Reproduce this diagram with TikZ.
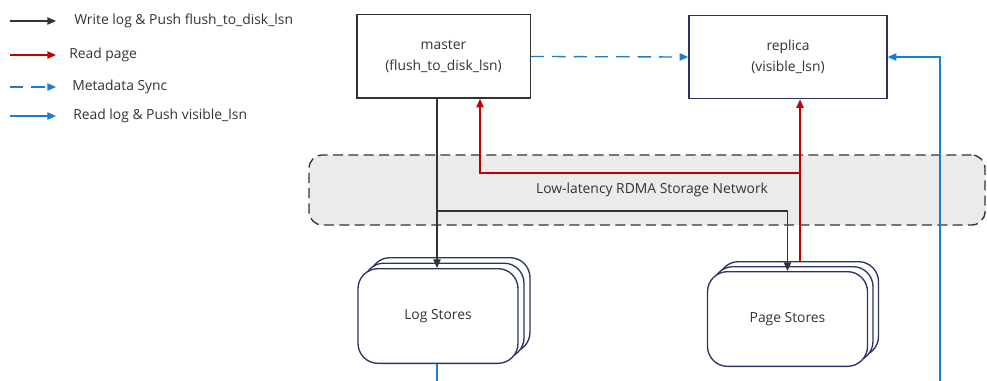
\documentclass[tikz,border=0pt]{standalone}
\usepackage{fontspec}
\setmainfont{Open Sans}
\usetikzlibrary{arrows.meta,positioning}

\definecolor{linegray}{HTML}{333333}
\definecolor{readred}{HTML}{C00000}
\definecolor{syncblue}{HTML}{1A7DD2}
\definecolor{boxnavy}{HTML}{2B3462}
\definecolor{netgray}{HTML}{EBEBEB}

\begin{document}
\begin{tikzpicture}[x=0.75pt, y=-0.75pt, font=\fontsize{10.4}{15.5}\selectfont, >={Triangle[length=6.5pt,width=5.5pt]}]
  \tikzstyle{server} = [draw=linegray, line width=1pt, fill=white, rectangle, minimum height=62.5pt, align=center, text=linegray]
  \tikzstyle{store} = [draw=boxnavy, line width=1pt, fill=white, rectangle, rounded corners=15pt, minimum width=120pt, minimum height=71pt, text=linegray]
  \tikzstyle{network} = [draw=linegray, line width=1pt, dash pattern=on 7.5pt off 4pt, fill=netgray, rounded corners=10pt, minimum width=507pt, minimum height=52.5pt, text=linegray]
  \tikzstyle{legendText} = [anchor=west, text=linegray, inner sep=0pt]
  \tikzstyle{writeEdge} = [linegray, line width=1pt, ->];
  \tikzstyle{readEdge} = [readred, line width=1pt, ->];
  \tikzstyle{syncEdge} = [syncblue, line width=1pt, ->, dash pattern=on 10pt off 6pt];
  \tikzstyle{pushEdge} = [syncblue, line width=1pt, ->];

  \useasboundingbox (0,0) rectangle (987,381);

  % legend
  \coordinate (l1a) at (10,21);  \coordinate (l1b) at (56,21);
  \coordinate (l2a) at (10,55);  \coordinate (l2b) at (56,55);
  \coordinate (l3a) at (10,87);  \coordinate (l3b) at (56,87);
  \coordinate (l4a) at (10,116); \coordinate (l4b) at (56,116);
  \node[legendText] (t1) at (74,21) {Write log \& Push flush\_to\_disk\_lsn};
  \node[legendText] (t2) at (69,55) {Read page};
  \node[legendText] (t3) at (72,87) {Metadata Sync};
  \node[legendText] (t4) at (73,116) {Read log \& Push visible\_lsn};
  \draw[writeEdge] (l1a) -- (l1b);
  \draw[readEdge] (l2a) -- (l2b);
  \draw[syncEdge] (l3a) -- (l3b);
  \draw[pushEdge] (l4a) -- (l4b);

  % network band
  \node[network] (net) at (647,190) {};
  \node[text=linegray] (netlabel) at (652,190) {Low-latency RDMA Storage Network};

  % servers
  \node[server, minimum width=130pt] (master) at (443.5,56.5) {master\\(flush\_to\_disk\_lsn)};
  \node[server, draw=boxnavy, minimum width=148.5pt] (replica) at (788,57) {replica\\(visible\_lsn)};

  % stores
  \node[store] (ls3) at (450,305) {};
  \node[store] (ls2) at (444,310.5) {};
  \node[store] (ls) at (438,316) {Log Stores};
  \node[store] (ps3) at (798.5,309) {};
  \node[store] (ps2) at (793,314) {};
  \node[store] (ps) at (787.5,319) {Page Stores};

  \coordinate (split) at (437,211);
  \coordinate (redtop) at (800,262);
  \coordinate (redsplit) at (800,173);
  \coordinate (redcorner) at (480,173);
  \coordinate (bluebottom) at (940,381);
  \coordinate (logout) at (437,381);

  % connectors
  \draw[writeEdge] (master.south -| split) -- (split |- ls.north);
  \draw[writeEdge] (split) -| (ps.north);
  \draw[readEdge] (redtop) -- (redtop |- replica.south);
  \draw[readEdge] (redsplit) -- (redcorner) -- (redcorner |- master.south);
  \draw[syncEdge] (master.east) -- (replica.west);
  \draw[pushEdge] (bluebottom) |- (replica.east);
  \draw[syncblue, line width=1pt] (ls.south -| logout) -- (logout);
\end{tikzpicture}
\end{document}
